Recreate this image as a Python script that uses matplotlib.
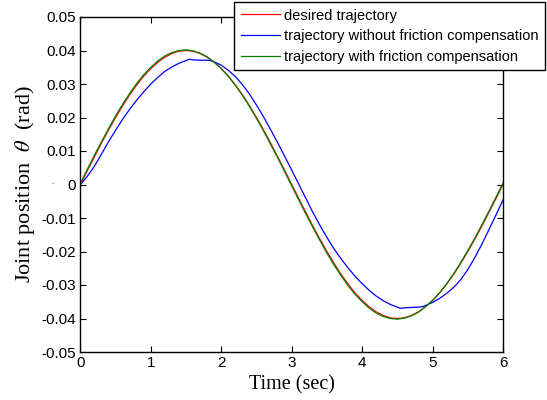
import matplotlib
matplotlib.use("Agg")
import matplotlib.pyplot as plt

t_ref = [round(0.1 * i, 1) for i in range(61)]
desired = [0.0, 0.0042, 0.0083, 0.0124, 0.0163, 0.0200, 0.0235, 0.0268, 0.0297, 0.0324,
           0.0346, 0.0365, 0.0380, 0.0391, 0.0398, 0.0400, 0.0398, 0.0391, 0.0380, 0.0365,
           0.0346, 0.0324, 0.0297, 0.0268, 0.0235, 0.0200, 0.0163, 0.0124, 0.0083, 0.0042,
           0.0,
           -0.0042, -0.0083, -0.0124, -0.0163, -0.0200, -0.0235, -0.0268, -0.0297, -0.0324,
           -0.0346, -0.0365, -0.0380, -0.0391, -0.0398, -0.0400, -0.0398, -0.0391, -0.0380,
           -0.0365, -0.0346, -0.0324, -0.0297, -0.0268, -0.0235, -0.0200, -0.0163, -0.0124,
           -0.0083, -0.0042, 0.0]
with_comp = [0.0004, 0.0046, 0.0088, 0.0128, 0.0167, 0.0205, 0.0240, 0.0272, 0.0302, 0.0328,
             0.0350, 0.0369, 0.0384, 0.0394, 0.0400, 0.0402, 0.0399, 0.0392, 0.0381, 0.0365,
             0.0346, 0.0323, 0.0296, 0.0266, 0.0233, 0.0197, 0.0160, 0.0120, 0.0080, 0.0038,
             -0.0004,
             -0.0046, -0.0088, -0.0128, -0.0167, -0.0205, -0.0240, -0.0272, -0.0302, -0.0328,
             -0.0350, -0.0369, -0.0384, -0.0394, -0.0400, -0.0402, -0.0399, -0.0392, -0.0381,
             -0.0365, -0.0346, -0.0323, -0.0296, -0.0266, -0.0233, -0.0197, -0.0160, -0.0120,
             -0.0080, -0.0038, 0.0004]

t_nofric = [0.0, 0.1, 0.2, 0.3, 0.4, 0.5, 0.6, 0.7, 0.8, 0.9, 1.0, 1.1, 1.2, 1.3, 1.4, 1.5,
            1.55, 1.6, 1.7, 1.8, 1.85, 1.9, 2.0, 2.1, 2.2, 2.3, 2.4, 2.5, 2.6, 2.7, 2.8, 2.9,
            3.0, 3.1, 3.2, 3.3, 3.4, 3.5, 3.6, 3.7, 3.8, 3.9, 4.0, 4.1, 4.2, 4.3, 4.4, 4.5,
            4.55, 4.6, 4.7, 4.8, 4.87, 4.9, 5.0, 5.1, 5.2, 5.3, 5.4, 5.5, 5.6, 5.7, 5.8, 5.9,
            6.0]
no_comp = [0.0, 0.0025, 0.0055, 0.0091, 0.0128, 0.0162, 0.0195, 0.0225, 0.0252, 0.0277,
           0.0300, 0.0320, 0.0338, 0.0351, 0.0362, 0.0370, 0.0374, 0.0372, 0.0371, 0.0371,
           0.0370, 0.0366, 0.0356, 0.0341, 0.0322, 0.0298, 0.0270, 0.0237, 0.0202, 0.0164,
           0.0125, 0.0084, 0.0043, 0.0001, -0.0041, -0.0083, -0.0122, -0.0158, -0.0192,
           -0.0222, -0.0249, -0.0274, -0.0296, -0.0316, -0.0333, -0.0347, -0.0358, -0.0366,
           -0.0370, -0.0368, -0.0367, -0.0366, -0.0364, -0.0361, -0.0352, -0.0340, -0.0325,
           -0.0307, -0.0284, -0.0254, -0.0218, -0.0178, -0.0135, -0.0091, -0.0046]

labels = ["desired trajectory", "trajectory without friction compensation",
          "trajectory with friction compensation"]
xticks = [0, 1, 2, 3, 4, 5, 6]
yticks = [-0.05, -0.04, -0.03, -0.02, -0.01, 0, 0.01, 0.02, 0.03, 0.04, 0.05]
ytick_labels = ["-0.05", "-0.04", "-0.03", "-0.02", "-0.01", "0",
                "0.01", "0.02", "0.03", "0.04", "0.05"]

plt.rcParams['font.family'] = ['Liberation Sans', 'DejaVu Sans']
plt.rcParams['mathtext.fontset'] = 'stix'

fig = plt.figure(figsize=(5.47, 4.0), dpi=100)
ax = fig.add_axes([0.147, 0.12, 0.7726, 0.8375])

l1, = ax.plot(t_ref, desired, color='#ff0000', lw=0.9)
l2, = ax.plot(t_nofric, no_comp, color='#0000ff', lw=0.9)
l3, = ax.plot(t_ref, with_comp, color='#008000', lw=0.9)

ax.set_xlim(0, 6)
ax.set_ylim(-0.05, 0.05)
ax.set_xticks(xticks)
ax.set_xticklabels([str(v) for v in xticks])
ax.set_yticks(yticks)
ax.set_yticklabels(ytick_labels)
ax.tick_params(direction='in', top=True, right=True, length=4, width=0.8,
               labelsize=11, pad=3)
for s in ax.spines.values():
    s.set_linewidth(1.0)

serif = ['Liberation Serif', 'DejaVu Serif']
ax.set_xlabel("Time (sec)", family=serif, fontsize=14.5, labelpad=4)
ax.set_ylabel(r"Joint position  $\theta$  (rad)", family=serif, fontsize=16, labelpad=3)

leg = fig.legend([l1, l2, l3], labels, loc='upper right',
                 bbox_to_anchor=(545 / 547, 1 - 2 / 400), bbox_transform=fig.transFigure,
                 fancybox=False, edgecolor='black', framealpha=1, fontsize=10.5,
                 handlelength=2.7, handletextpad=0.25, labelspacing=0.45,
                 borderpad=0.45, borderaxespad=0)
leg.get_frame().set_linewidth(1.0)

fig.text(52 / 547, 1 - 182 / 400, '.', fontsize=6, ha='center', va='center')

fig.savefig("out.png", dpi=100)
